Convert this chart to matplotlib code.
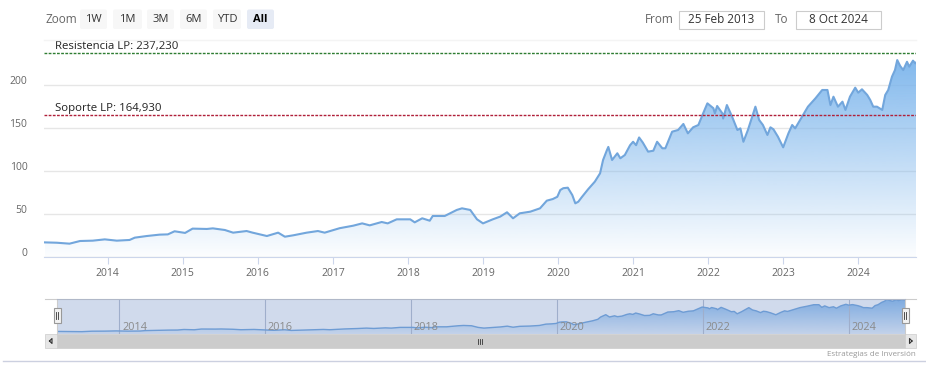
import numpy as np
import matplotlib
matplotlib.use("Agg")
import matplotlib.pyplot as plt
from matplotlib.colors import to_rgb
from matplotlib.patches import Rectangle, FancyBboxPatch
from matplotlib.transforms import ScaledTranslation

plt.rcParams["font.family"] = ["Open Sans", "DejaVu Sans"]

# decimal years and closing price
anios = [2013.16, 2013.32, 2013.49, 2013.63, 2013.80, 2013.96, 2014.12, 2014.29, 2014.36, 2014.52,
         2014.69, 2014.80, 2014.89, 2015.03, 2015.13, 2015.32, 2015.40, 2015.56, 2015.67, 2015.85,
         2015.93, 2016.12, 2016.27, 2016.36, 2016.47, 2016.65, 2016.80, 2016.89, 2017.09, 2017.27,
         2017.39, 2017.49, 2017.65, 2017.73, 2017.85, 2018.03, 2018.09, 2018.19, 2018.29, 2018.33,
         2018.49, 2018.65, 2018.72, 2018.83, 2018.92, 2019.00, 2019.13, 2019.23, 2019.32, 2019.40,
         2019.49, 2019.63, 2019.76, 2019.85, 2019.93, 2019.99, 2020.03, 2020.07, 2020.13, 2020.19,
         2020.23, 2020.27, 2020.32, 2020.40, 2020.49, 2020.56, 2020.60, 2020.65, 2020.67, 2020.72,
         2020.79, 2020.83, 2020.89, 2020.96, 2021.00, 2021.04, 2021.08, 2021.13, 2021.20, 2021.27,
         2021.32, 2021.39, 2021.43, 2021.52, 2021.60, 2021.67, 2021.73, 2021.80, 2021.87, 2021.93,
         2021.99, 2022.07, 2022.09, 2022.12, 2022.19, 2022.20, 2022.25, 2022.32, 2022.39, 2022.43,
         2022.47, 2022.53, 2022.63, 2022.68, 2022.73, 2022.79, 2022.83, 2022.87, 2022.93, 2023.00,
         2023.07, 2023.12, 2023.16, 2023.25, 2023.33, 2023.43, 2023.52, 2023.59, 2023.63, 2023.67,
         2023.73, 2023.79, 2023.83, 2023.89, 2023.96, 2024.00, 2024.05, 2024.12, 2024.16, 2024.20,
         2024.25, 2024.32, 2024.36, 2024.40, 2024.45, 2024.49, 2024.52, 2024.56, 2024.60, 2024.65,
         2024.68, 2024.73, 2024.76, 2024.77]
precio = [17.0, 16.6, 15.5, 18.6, 19.0, 20.5, 19.0, 19.8, 22.5, 24.4,
          26.0, 26.3, 29.9, 28.0, 33.0, 32.6, 33.3, 31.4, 28.3, 30.2,
          28.3, 24.4, 28.3, 23.6, 25.2, 28.3, 30.2, 28.3, 33.5, 36.4,
          39.1, 36.8, 40.7, 39.1, 43.8, 43.8, 40.3, 45.0, 42.2, 47.7,
          47.7, 54.7, 56.6, 54.7, 43.8, 39.1, 43.8, 47.0, 52.0, 45.0,
          50.8, 52.7, 56.6, 65.5, 67.4, 70.0, 77.9, 80.0, 80.6, 72.0,
          62.4, 64.3, 70.0, 78.7, 87.6, 97.3, 112.8, 124.0, 128.0, 112.8,
          120.6, 114.8, 118.6, 130.0, 134.0, 130.0, 139.0, 133.0, 122.5, 123.6,
          134.0, 126.4, 126.4, 145.7, 147.7, 154.7, 143.8, 150.8, 153.5, 166.3,
          178.7, 173.0, 167.0, 175.6, 167.0, 161.0, 176.7, 163.0, 147.7, 149.6,
          134.0, 147.7, 174.8, 159.3, 153.5, 141.9, 150.8, 148.5, 139.9, 127.5,
          143.8, 153.5, 149.6, 163.0, 174.8, 184.5, 194.2, 194.2, 176.7, 186.4,
          174.8, 180.6, 171.0, 186.4, 196.9, 191.1, 195.0, 188.4, 182.6, 174.8,
          174.8, 171.0, 188.4, 194.2, 209.7, 217.4, 229.0, 222.0, 217.4, 227.0,
          221.3, 228.3, 225.2, 226.0]
soporte = 164.93
resistencia = 237.23
anio_ini, anio_fin = 2013.15, 2024.77
ticks_anio = list(range(2014, 2025))
ticks_nav = [2014, 2016, 2018, 2020, 2022, 2024]
botones = ["1W", "1M", "3M", "6M", "YTD", "All"]

AZUL = "#7cb5ec"
LINEA = "#72a6dc"
GRIS = "#666666"

x = np.array(anios)
y = np.array(precio)

W, H = 926, 373
fig = plt.figure(figsize=(W / 100, H / 100), dpi=100)


def rect(l, t, r, b):
    return [l / W, 1 - b / H, (r - l) / W, (b - t) / H]


def relleno_gradiente(ax, x, y, top, a0, a1):
    poly = ax.fill_between(x, 0, y, color="none", lw=0)
    grad = np.zeros((256, 1, 4))
    grad[:, 0, :3] = to_rgb(AZUL)
    grad[:, 0, 3] = np.linspace(a0, a1, 256)
    im = ax.imshow(grad, extent=(x[0], x[-1], 0, top), origin="upper", aspect="auto", zorder=1)
    im.set_clip_path(poly.get_paths()[0], transform=ax.transData)


# ---- grafico principal
ax = fig.add_axes(rect(44, 42, 916, 257))
ax.set_xlim(anio_ini, anio_fin)
ax.set_ylim(0, 250)
relleno_gradiente(ax, x, y, max(y), 0.95, 0.02)
ax.plot(x, y, color=LINEA, lw=1.5, zorder=3)
ax.axhline(resistencia, color="#2e7d32", lw=1, ls=(0, (2, 1)), zorder=4)
ax.axhline(soporte, color="#b0203a", lw=1, ls=(0, (2, 1)), zorder=4)
ax.text(anio_ini + 11 / 75, resistencia + 1.2, "Resistencia LP: 237,230", fontsize=8.2, va="bottom", color="#222")
ax.text(anio_ini + 11 / 75, soporte + 1.2, "Soporte LP: 164,930", fontsize=8.2, va="bottom", color="#222")

ax.set_yticks([0, 50, 100, 150, 200])
ax.grid(axis="y", color="#e6e6e6", lw=1)
ax.set_axisbelow(True)
ax.set_xticks(ticks_anio, [str(t) for t in ticks_anio])
for s in ["top", "right", "left"]:
    ax.spines[s].set_visible(False)
ax.spines["bottom"].set_color("#ccd6eb")
ax.tick_params(axis="y", length=0, pad=12, labelsize=7.5, labelcolor=GRIS)
ax.tick_params(axis="x", length=5, color="#ccd6eb", pad=3, labelsize=7.5, labelcolor=GRIS)
for lbl in ax.get_yticklabels():
    lbl.set_transform(lbl.get_transform() + ScaledTranslation(0, 5 / 100, fig.dpi_scale_trans))

# ---- navegador
nav = fig.add_axes(rect(57, 299, 905, 334))
nav.set_xlim(anio_ini, anio_fin)
nav.set_ylim(0, 232)
relleno_gradiente(nav, x, y, max(y), 0.9, 0.15)
nav.plot(x, y, color=LINEA, lw=1, zorder=3)
nav.add_patch(Rectangle((0, 0), 1, 1, transform=nav.transAxes, color=(102 / 255, 133 / 255, 194 / 255, 0.3), lw=0, zorder=5))
for t in ticks_nav:
    nav.axvline(t, color="#b8c0d0", lw=0.8, zorder=2)
    nav.text(t + 3 / 73, 0.18, str(t), transform=nav.get_xaxis_transform(), fontsize=7.8, color="#8a8a8a", va="center", zorder=6)
nav.set_axis_off()

# ---- capa superior con controles
ov = fig.add_axes([0, 0, 1, 1])
ov.set_xlim(0, W)
ov.set_ylim(H, 0)
ov.set_axis_off()
ov.patch.set_alpha(0)

ov.text(46, 19.5, "Zoom", fontsize=8.5, color=GRIS, va="center")
pos_botones = [(80, 107), (113, 142), (147, 174), (180, 207), (213, 241), (247, 274)]
for nombre, (l, r) in zip(botones, pos_botones):
    sel = nombre == "All"
    ov.add_patch(FancyBboxPatch((l, 9.5), r - l, 19.5, boxstyle="round,pad=0,rounding_size=2",
                                fc="#e6ebf5" if sel else "#f7f7f7", ec="none"))
    ov.text((l + r) / 2, 19.5, nombre, fontsize=8, ha="center", va="center",
            color="#000" if sel else "#333", weight="bold" if sel else "normal")

ov.text(659, 19.5, "From", fontsize=8.5, color=GRIS, ha="center", va="center")
ov.add_patch(Rectangle((679, 10.5), 85, 18.5, fc="white", ec="#cccccc", lw=0.8))
ov.text(721.5, 19.5, "25 Feb 2013", fontsize=8.5, color="#333", ha="center", va="center")
ov.text(782, 19.5, "To", fontsize=8.5, color=GRIS, ha="center", va="center")
ov.add_patch(Rectangle((796, 10.5), 85, 18.5, fc="white", ec="#cccccc", lw=0.8))
ov.text(838.5, 19.5, "8 Oct 2024", fontsize=8.5, color="#333", ha="center", va="center")
ov.plot([44, 916], [39.5, 39.5], color="#f4f4f4", lw=1)

# contorno del navegador y manijas
ov.plot([45, 57, 57], [299, 299, 334], color="#cccccc", lw=0.8)
ov.plot([905, 905, 916], [334, 299, 299], color="#cccccc", lw=0.8)
ov.plot([57, 905], [299, 299], color="#b0b8c8", lw=0.8)
for hx in (57, 905):
    ov.add_patch(Rectangle((hx - 3.5, 308), 7, 15, fc="#f2f2f2", ec="#999999", lw=0.8, zorder=6))
    ov.plot([hx - 1, hx - 1], [312, 319], color="#333", lw=0.6, zorder=7)
    ov.plot([hx + 1, hx + 1], [312, 319], color="#333", lw=0.6, zorder=7)

# barra de desplazamiento
ov.add_patch(Rectangle((57, 334), 848, 13.5, fc="#cccccc", ec="#cccccc", lw=0.5))
ov.add_patch(Rectangle((45, 334), 12, 13.5, fc="#e6e6e6", ec="#cccccc", lw=0.5))
ov.add_patch(Rectangle((905, 334), 11, 13.5, fc="#e6e6e6", ec="#cccccc", lw=0.5))
ov.plot([49.5, 52, 52, 49.5], [341, 338.5, 343.5, 341], color="#333", lw=0.8)
ov.plot([912, 909.5, 909.5, 912], [341, 338.5, 343.5, 341], color="#333", lw=0.8)
for dx in (-2, 0, 2):
    ov.plot([480 + dx, 480 + dx], [338.5, 343.5], color="#333", lw=0.6)

ov.plot([3, 926], [361, 361], color="#ccd0e0", lw=1)
ov.text(916, 354, "Estrategias de Inversión", fontsize=5.8, color="#999999", ha="right", va="center")

fig.savefig("out.png", dpi=100)
